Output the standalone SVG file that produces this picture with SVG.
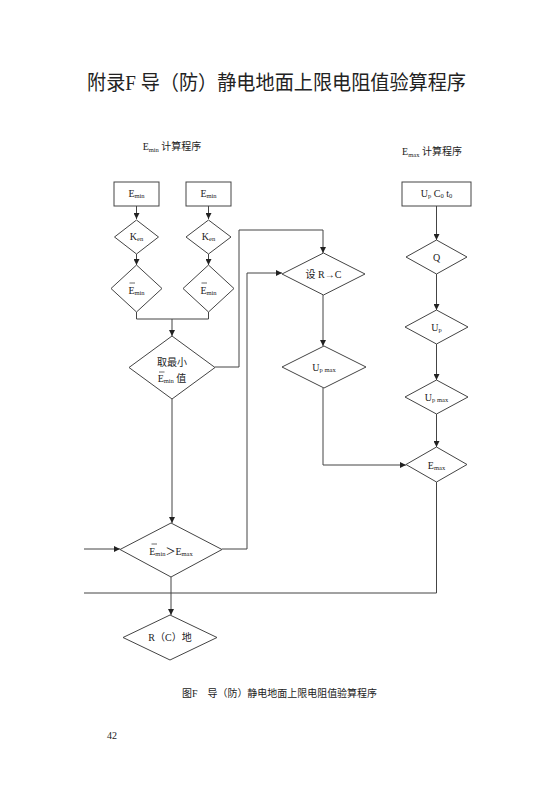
<svg xmlns="http://www.w3.org/2000/svg" width="559" height="794" viewBox="0 0 559 794">
<style>
  .t { font-family: "Liberation Serif", "Noto Sans CJK SC", serif; fill: #222; }
  .lbl { font-size: 10px; text-anchor: middle; }
  .sub { font-size: 6.5px; }
  .shape { fill: #fff; stroke: #444; stroke-width: 1; }
  .ln { fill: none; stroke: #444; stroke-width: 1; }
  .bar { stroke: #444; stroke-width: 0.8; }
</style>
<defs>
  <marker id="arr" markerUnits="userSpaceOnUse" markerWidth="7" markerHeight="6" refX="6" refY="3" orient="auto">
    <path d="M0,0 L6,3 L0,6 z" fill="#222"/>
  </marker>
</defs>
<rect width="559" height="794" fill="#fff"/>

<text class="t" x="87" y="90" font-size="20" textLength="379" lengthAdjust="spacingAndGlyphs">附录F 导（防）静电地面上限电阻值验算程序</text>

<text class="t lbl" x="172" y="150">E<tspan class="sub" dy="2">min</tspan><tspan dy="-2"> 计算程序</tspan></text>
<text class="t lbl" x="432" y="155">E<tspan class="sub" dy="2">max</tspan><tspan dy="-2"> 计算程序</tspan></text>

<g id="connectors">
  <line class="ln" x1="136.5" y1="206" x2="136.5" y2="219" marker-end="url(#arr)"/>
  <line class="ln" x1="136.5" y1="254" x2="136.5" y2="265" marker-end="url(#arr)"/>
  <line class="ln" x1="208.5" y1="206" x2="208.5" y2="219" marker-end="url(#arr)"/>
  <line class="ln" x1="208.5" y1="254" x2="208.5" y2="265" marker-end="url(#arr)"/>
  <polyline class="ln" points="136.5,312 136.5,319 208.5,319 208.5,312"/>
  <line class="ln" x1="172" y1="319" x2="172" y2="336" marker-end="url(#arr)"/>
  <polyline class="ln" points="215,367 239,367 239,230 323,230 323,253" marker-end="url(#arr)"/>
  <line class="ln" x1="323" y1="295" x2="323" y2="346" marker-end="url(#arr)"/>
  <polyline class="ln" points="323,388 323,465 406,465" marker-end="url(#arr)"/>
  <line class="ln" x1="172" y1="399" x2="172" y2="523" marker-end="url(#arr)"/>
  <polyline class="ln" points="222,549 247,549 247,273 282,273" marker-end="url(#arr)"/>
  <line class="ln" x1="84" y1="549" x2="120" y2="549" marker-end="url(#arr)"/>
  <line class="ln" x1="171" y1="577" x2="171" y2="615" marker-end="url(#arr)"/>
  <line class="ln" x1="436.5" y1="206" x2="436.5" y2="240" marker-end="url(#arr)"/>
  <line class="ln" x1="436.5" y1="274" x2="436.5" y2="310" marker-end="url(#arr)"/>
  <line class="ln" x1="436.5" y1="344" x2="436.5" y2="380" marker-end="url(#arr)"/>
  <line class="ln" x1="436.5" y1="414" x2="436.5" y2="447" marker-end="url(#arr)"/>
  <polyline class="ln" points="436.5,482 436.5,593 84,593" stroke="#666"/>
</g>

<g id="emin1">
  <rect class="shape" x="114" y="182" width="45" height="24"/>
  <text class="t lbl" x="136.5" y="197">E<tspan class="sub" dy="1">min</tspan></text>
</g>
<g id="emin2">
  <rect class="shape" x="186" y="182" width="45" height="24"/>
  <text class="t lbl" x="208.5" y="197">E<tspan class="sub" dy="1">min</tspan></text>
</g>
<g id="ken1">
  <polygon class="shape" points="136.5,220 158.5,237 136.5,254 114.5,237"/>
  <text class="t lbl" x="136.5" y="240">K<tspan class="sub" dy="1">en</tspan></text>
</g>
<g id="ken2">
  <polygon class="shape" points="208.5,220 231,237 208.5,254 186,237"/>
  <text class="t lbl" x="208.5" y="240">K<tspan class="sub" dy="1">en</tspan></text>
</g>
<g id="eminbar1">
  <polygon class="shape" points="136.5,265 162,288.5 136.5,312 111,288.5"/>
  <text class="t lbl" x="136.5" y="294">E<tspan class="sub" dy="1">min</tspan></text>
  <line class="bar" x1="129.5" y1="283" x2="135" y2="283"/>
</g>
<g id="eminbar2">
  <polygon class="shape" points="208.5,265 234,288.5 208.5,312 183,288.5"/>
  <text class="t lbl" x="208.5" y="294">E<tspan class="sub" dy="1">min</tspan></text>
  <line class="bar" x1="201.5" y1="283" x2="207" y2="283"/>
</g>
<g id="minval">
  <polygon class="shape" points="172,336 215,367.5 172,399 129,367.5"/>
  <text class="t lbl" x="172" y="366">取最小</text>
  <text class="t lbl" x="172" y="382">E<tspan class="sub" dy="1">min</tspan><tspan dy="-1"> 值</tspan></text>
  <line class="bar" x1="159" y1="372" x2="164.5" y2="372"/>
</g>
<g id="setrc">
  <polygon class="shape" points="323.5,253 365,274 323.5,295 282,274"/>
  <text class="t lbl" x="323.5" y="278">设 R→C</text>
</g>
<g id="upmax1">
  <polygon class="shape" points="324,346 366,367 324,388 282,367"/>
  <text class="t lbl" x="324" y="371">U<tspan class="sub" dy="1">p max</tspan></text>
</g>
<g id="compare">
  <polygon class="shape" points="171,523 222,549.5 171,577 120,549.5"/>
  <text class="t lbl" x="171" y="555">E<tspan class="sub" dy="1">min</tspan><tspan dy="-1">＞E</tspan><tspan class="sub" dy="1">max</tspan></text>
  <line class="bar" x1="151.5" y1="544" x2="157" y2="544"/>
</g>
<g id="ground">
  <polygon class="shape" points="170,615 217,637.5 170,660 123,637.5"/>
  <text class="t lbl" x="170" y="641">R（C）地</text>
</g>
<g id="upc0t0">
  <rect class="shape" x="402" y="182" width="69" height="24"/>
  <text class="t lbl" x="436.5" y="197">U<tspan class="sub" dy="1">p</tspan><tspan dy="-1"> C</tspan><tspan class="sub" dy="1">0</tspan><tspan dy="-1"> t</tspan><tspan class="sub" dy="1">0</tspan></text>
</g>
<g id="q">
  <polygon class="shape" points="436.5,240 467,257 436.5,274 406,257"/>
  <text class="t lbl" x="436.5" y="261">Q</text>
</g>
<g id="up">
  <polygon class="shape" points="436.5,310 468,327 436.5,344 405,327"/>
  <text class="t lbl" x="436.5" y="331">U<tspan class="sub" dy="1">p</tspan></text>
</g>
<g id="upmax2">
  <polygon class="shape" points="436.5,380 468,397 436.5,414 405,397"/>
  <text class="t lbl" x="436.5" y="401">U<tspan class="sub" dy="1">p max</tspan></text>
</g>
<g id="emax">
  <polygon class="shape" points="436.5,447 467,464.5 436.5,482 406,464.5"/>
  <text class="t lbl" x="436.5" y="469">E<tspan class="sub" dy="1">max</tspan></text>
</g>

<text class="t" x="182" y="697" font-size="10" textLength="195" lengthAdjust="spacingAndGlyphs">图F　导（防）静电地面上限电阻值验算程序</text>
<text class="t" x="107" y="739" font-size="10">42</text>
</svg>
